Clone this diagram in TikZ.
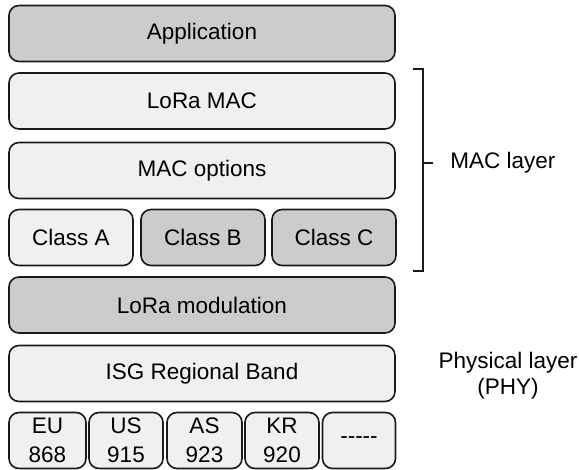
\documentclass[tikz,border=0pt]{standalone}
\usepackage{fontspec}
\setmainfont{Liberation Sans}
\definecolor{darkfill}{HTML}{CCCCCC}
\definecolor{lightfill}{HTML}{F0F0F0}
\definecolor{strokec}{HTML}{1A1A1A}
\begin{document}
\begin{tikzpicture}[x=1pt,y=-1pt,
  layerbox/.style={draw=strokec, line width=1.6pt, rounded corners=10pt,
    minimum height=56pt, inner sep=0pt, align=center,
    font=\fontsize{22.5}{29.5}\selectfont},
  dark/.style={layerbox, fill=darkfill},
  light/.style={layerbox, fill=lightfill},
  lbl/.style={align=center, font=\fontsize{22.5}{26}\selectfont},
  brace/.style={draw=strokec, line width=1.6pt}]
\useasboundingbox (0,0) rectangle (579,470);
\node[dark, minimum width=386pt] (app) at (202,33.5) {Application};
\node[light, minimum width=386pt] (mac) at (202,101) {LoRa MAC};
\node[light, minimum width=386pt] (opt) at (202,170.5) {MAC options};
\node[light, minimum width=124pt] (ca) at (71,237.5) {Class A};
\node[dark, minimum width=124pt] (cb) at (203,237.5) {Class B};
\node[dark, minimum width=124pt] (cc) at (334,237.5) {Class C};
\node[dark, minimum width=386pt] (mod) at (202,305) {LoRa modulation};
\node[light, minimum width=386pt] (isg) at (202,373.5) {ISG Regional Band};
\node[light, minimum width=77pt] (eu) at (47.5,440.5) {EU\\868};
\node[light, minimum width=74pt] (us) at (126,440.5) {US\\915};
\node[light, minimum width=75pt] (as) at (204.5,440.5) {AS\\923};
\node[light, minimum width=74pt] (kr) at (282,440.5) {KR\\920};
\node[light, minimum width=73pt] (etc) at (359,440.5) {{-}{-}{-}{-}{-}};
\coordinate (bt) at (413,69);
\coordinate (bb) at (413,271);
\coordinate (bm) at (423,163);
\coordinate (bx) at (433,163);
\draw[brace] (bt) -- ++(10,0) -- (bm) -- (423,271) -- (bb);
\draw[brace] (bm) -- (bx);
\node[lbl] (macl) at (503,163) {MAC layer};
\node[lbl] (phyl) at (508,376) {Physical layer\\(PHY)};
\end{tikzpicture}
\end{document}
